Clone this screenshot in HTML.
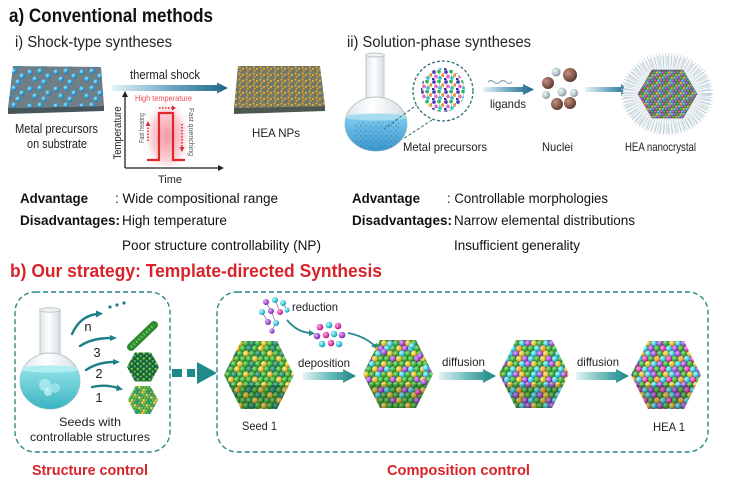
<!DOCTYPE html>
<html><head><meta charset="utf-8"><style>
html,body{margin:0;padding:0;background:#fff;}
svg{display:block;}
text{font-family:"Liberation Sans",Arial,sans-serif;}
</style></head><body>
<svg width="733" height="485" viewBox="0 0 733 485" xmlns="http://www.w3.org/2000/svg">
<defs>
<radialGradient id="sG" cx=".35" cy=".35" r=".75"><stop offset="0" stop-color="#9be88a"/><stop offset=".6" stop-color="#3aa63a"/><stop offset="1" stop-color="#1a5e1a"/></radialGradient>
<radialGradient id="sY" cx=".35" cy=".35" r=".75"><stop offset="0" stop-color="#fff0a0"/><stop offset=".6" stop-color="#d8b830"/><stop offset="1" stop-color="#8a6a08"/></radialGradient>
<radialGradient id="sC" cx=".35" cy=".35" r=".75"><stop offset="0" stop-color="#c0f8ff"/><stop offset=".6" stop-color="#3cc8dc"/><stop offset="1" stop-color="#137a8a"/></radialGradient>
<radialGradient id="sP" cx=".35" cy=".35" r=".75"><stop offset="0" stop-color="#e8b0ff"/><stop offset=".6" stop-color="#a050d0"/><stop offset="1" stop-color="#5a1a80"/></radialGradient>
<radialGradient id="sM" cx=".35" cy=".35" r=".75"><stop offset="0" stop-color="#ffb0e0"/><stop offset=".6" stop-color="#e040b0"/><stop offset="1" stop-color="#801060"/></radialGradient>
<radialGradient id="sO" cx=".35" cy=".35" r=".75"><stop offset="0" stop-color="#ffd8a0"/><stop offset=".6" stop-color="#f0a030"/><stop offset="1" stop-color="#9a5a08"/></radialGradient>
<radialGradient id="sD" cx=".35" cy=".35" r=".75"><stop offset="0" stop-color="#70c0a0"/><stop offset=".6" stop-color="#2a8a70"/><stop offset="1" stop-color="#0e4a3a"/></radialGradient>
<radialGradient id="sB" cx=".35" cy=".35" r=".75"><stop offset="0" stop-color="#a0e4ff"/><stop offset=".6" stop-color="#2aa4dc"/><stop offset="1" stop-color="#0f5e90"/></radialGradient>
<radialGradient id="sBr" cx=".35" cy=".35" r=".75"><stop offset="0" stop-color="#c09080"/><stop offset=".6" stop-color="#85584a"/><stop offset="1" stop-color="#4a2e26"/></radialGradient>
<radialGradient id="sGr" cx=".35" cy=".35" r=".75"><stop offset="0" stop-color="#eef4f6"/><stop offset=".6" stop-color="#b4c4ca"/><stop offset="1" stop-color="#6a7a80"/></radialGradient>
<radialGradient id="pinkG" cx=".5" cy=".55" r=".6"><stop offset="0" stop-color="#f59aa8"/><stop offset=".6" stop-color="#fbd0d6"/><stop offset="1" stop-color="#ffffff" stop-opacity="0"/></radialGradient>
<linearGradient id="gradA" x1="0" y1="0" x2="1" y2="0"><stop offset="0" stop-color="#e6f3f8"/><stop offset=".5" stop-color="#6fa8c4"/><stop offset="1" stop-color="#1c6688"/></linearGradient>
<linearGradient id="gradB" x1="0" y1="0" x2="1" y2="0"><stop offset="0" stop-color="#e4f4f4"/><stop offset=".5" stop-color="#6cbcbc"/><stop offset="1" stop-color="#178484"/></linearGradient>
<linearGradient id="glass" x1="0" y1="0" x2="1" y2="0"><stop offset="0" stop-color="#dfe6e9"/><stop offset=".45" stop-color="#ffffff"/><stop offset="1" stop-color="#d4dde1"/></linearGradient>
<linearGradient id="liqA" x1="0" y1="0" x2="0" y2="1"><stop offset="0" stop-color="#7ccbee"/><stop offset="1" stop-color="#2f8fc8"/></linearGradient>
<linearGradient id="liqB" x1="0" y1="0" x2="0" y2="1"><stop offset="0" stop-color="#8fe0e6"/><stop offset="1" stop-color="#32b0c0"/></linearGradient>

<pattern id="bluedots" patternUnits="userSpaceOnUse" width="26" height="17">
<circle cx="4" cy="4" r="2.7" fill="url(#sB)"/><circle cx="14" cy="3" r="2.7" fill="url(#sB)"/><circle cx="22" cy="8" r="2.7" fill="url(#sB)"/><circle cx="9" cy="11" r="2.7" fill="url(#sB)"/><circle cx="18" cy="14" r="2.7" fill="url(#sB)"/>
</pattern>
<pattern id="orangedots" patternUnits="userSpaceOnUse" width="7" height="6">
<circle cx="1.5" cy="1.5" r="1.1" fill="#f4a41c"/><circle cx="5" cy="2.8" r="1.1" fill="#f0b030"/><circle cx="2.6" cy="4.6" r="1.1" fill="#e8961a"/>
</pattern>
<pattern id="liqdots" patternUnits="userSpaceOnUse" width="5" height="5">
<circle cx="1" cy="1" r=".7" fill="#1a5a9a"/><circle cx="3.5" cy="3" r=".6" fill="#1f6aa8"/>
</pattern>
<pattern id="molpat" patternUnits="userSpaceOnUse" width="12" height="10">
<line x1="2" y1="2" x2="4" y2="6.5" stroke="#999" stroke-width=".5"/><line x1="7" y1="1.5" x2="8" y2="8" stroke="#999" stroke-width=".5"/>
<circle cx="2" cy="2" r="1.9" fill="#5040b0"/><circle cx="7" cy="1.5" r="1.9" fill="#38b060"/><circle cx="11" cy="5" r="1.9" fill="#e09a40"/><circle cx="4" cy="6.5" r="1.9" fill="#e070c0"/><circle cx="8" cy="8" r="1.9" fill="#3cc0d0"/><circle cx="1" cy="9.5" r="1.6" fill="#2a2a90"/>
</pattern>

<pattern id="seedpat" patternUnits="userSpaceOnUse" width="24" height="20.8">
<rect width="24" height="20.8" fill="#1e4e1e"/>
<circle cx="0" cy="0" r="3.2" fill="url(#sG)"/><circle cx="6" cy="0" r="3.2" fill="url(#sY)"/><circle cx="12" cy="0" r="3.2" fill="url(#sG)"/><circle cx="18" cy="0" r="3.2" fill="url(#sD)"/><circle cx="24" cy="0" r="3.2" fill="url(#sG)"/>
<circle cx="3" cy="5.2" r="3.2" fill="url(#sG)"/><circle cx="9" cy="5.2" r="3.2" fill="url(#sG)"/><circle cx="15" cy="5.2" r="3.2" fill="url(#sY)"/><circle cx="21" cy="5.2" r="3.2" fill="url(#sG)"/>
<circle cx="0" cy="10.4" r="3.2" fill="url(#sY)"/><circle cx="6" cy="10.4" r="3.2" fill="url(#sG)"/><circle cx="12" cy="10.4" r="3.2" fill="url(#sD)"/><circle cx="18" cy="10.4" r="3.2" fill="url(#sG)"/><circle cx="24" cy="10.4" r="3.2" fill="url(#sY)"/>
<circle cx="3" cy="15.6" r="3.2" fill="url(#sG)"/><circle cx="9" cy="15.6" r="3.2" fill="url(#sD)"/><circle cx="15" cy="15.6" r="3.2" fill="url(#sG)"/><circle cx="21" cy="15.6" r="3.2" fill="url(#sY)"/>
<circle cx="0" cy="20.8" r="3.2" fill="url(#sG)"/><circle cx="6" cy="20.8" r="3.2" fill="url(#sY)"/><circle cx="12" cy="20.8" r="3.2" fill="url(#sG)"/><circle cx="18" cy="20.8" r="3.2" fill="url(#sD)"/><circle cx="24" cy="20.8" r="3.2" fill="url(#sG)"/>
</pattern>
<pattern id="seedsmall" href="#seedpat" patternTransform="scale(0.5)"/>
<pattern id="darkgreen" patternUnits="userSpaceOnUse" width="6" height="5.2">
<rect width="6" height="5.2" fill="#1e5a1e"/>
<circle cx="0" cy="0" r="1.6" fill="url(#sG)"/><circle cx="6" cy="0" r="1.6" fill="url(#sG)"/><circle cx="3" cy="2.6" r="1.6" fill="url(#sD)"/><circle cx="0" cy="5.2" r="1.6" fill="url(#sG)"/><circle cx="6" cy="5.2" r="1.6" fill="url(#sG)"/>
</pattern>

<pattern id="deppat" patternUnits="userSpaceOnUse" width="24" height="20.8">
<rect width="24" height="20.8" fill="#1e4e1e"/>
<circle cx="0" cy="0" r="3.2" fill="url(#sG)"/><circle cx="6" cy="0" r="3.2" fill="url(#sY)"/><circle cx="12" cy="0" r="3.2" fill="url(#sG)"/><circle cx="18" cy="0" r="3.2" fill="url(#sC)"/><circle cx="24" cy="0" r="3.2" fill="url(#sG)"/>
<circle cx="3" cy="5.2" r="3.2" fill="url(#sG)"/><circle cx="9" cy="5.2" r="3.2" fill="url(#sP)"/><circle cx="15" cy="5.2" r="3.2" fill="url(#sY)"/><circle cx="21" cy="5.2" r="3.2" fill="url(#sG)"/>
<circle cx="0" cy="10.4" r="3.2" fill="url(#sY)"/><circle cx="6" cy="10.4" r="3.2" fill="url(#sG)"/><circle cx="12" cy="10.4" r="3.2" fill="url(#sG)"/><circle cx="18" cy="10.4" r="3.2" fill="url(#sG)"/><circle cx="24" cy="10.4" r="3.2" fill="url(#sY)"/>
<circle cx="3" cy="15.6" r="3.2" fill="url(#sC)"/><circle cx="9" cy="15.6" r="3.2" fill="url(#sG)"/><circle cx="15" cy="15.6" r="3.2" fill="url(#sY)"/><circle cx="21" cy="15.6" r="3.2" fill="url(#sP)"/>
<circle cx="0" cy="20.8" r="3.2" fill="url(#sG)"/><circle cx="6" cy="20.8" r="3.2" fill="url(#sY)"/><circle cx="12" cy="20.8" r="3.2" fill="url(#sG)"/><circle cx="18" cy="20.8" r="3.2" fill="url(#sC)"/><circle cx="24" cy="20.8" r="3.2" fill="url(#sG)"/>
</pattern>

<pattern id="mixA" patternUnits="userSpaceOnUse" width="24" height="20.8">
<rect width="24" height="20.8" fill="#2a3a3a"/>
<circle cx="0" cy="0" r="3.2" fill="url(#sC)"/><circle cx="6" cy="0" r="3.2" fill="url(#sP)"/><circle cx="12" cy="0" r="3.2" fill="url(#sG)"/><circle cx="18" cy="0" r="3.2" fill="url(#sY)"/><circle cx="24" cy="0" r="3.2" fill="url(#sC)"/>
<circle cx="3" cy="5.2" r="3.2" fill="url(#sG)"/><circle cx="9" cy="5.2" r="3.2" fill="url(#sO)"/><circle cx="15" cy="5.2" r="3.2" fill="url(#sC)"/><circle cx="21" cy="5.2" r="3.2" fill="url(#sM)"/>
<circle cx="0" cy="10.4" r="3.2" fill="url(#sY)"/><circle cx="6" cy="10.4" r="3.2" fill="url(#sC)"/><circle cx="12" cy="10.4" r="3.2" fill="url(#sP)"/><circle cx="18" cy="10.4" r="3.2" fill="url(#sG)"/><circle cx="24" cy="10.4" r="3.2" fill="url(#sY)"/>
<circle cx="3" cy="15.6" r="3.2" fill="url(#sP)"/><circle cx="9" cy="15.6" r="3.2" fill="url(#sG)"/><circle cx="15" cy="15.6" r="3.2" fill="url(#sM)"/><circle cx="21" cy="15.6" r="3.2" fill="url(#sC)"/>
<circle cx="0" cy="20.8" r="3.2" fill="url(#sC)"/><circle cx="6" cy="20.8" r="3.2" fill="url(#sP)"/><circle cx="12" cy="20.8" r="3.2" fill="url(#sG)"/><circle cx="18" cy="20.8" r="3.2" fill="url(#sY)"/><circle cx="24" cy="20.8" r="3.2" fill="url(#sC)"/>
</pattern>
<pattern id="mixsmall" href="#mixA" patternTransform="scale(0.5)"/>

<pattern id="mixB" patternUnits="userSpaceOnUse" width="24" height="20.8">
<rect width="24" height="20.8" fill="#2a3a3a"/>
<circle cx="0" cy="0" r="3.2" fill="url(#sG)"/><circle cx="6" cy="0" r="3.2" fill="url(#sC)"/><circle cx="12" cy="0" r="3.2" fill="url(#sP)"/><circle cx="18" cy="0" r="3.2" fill="url(#sY)"/><circle cx="24" cy="0" r="3.2" fill="url(#sG)"/>
<circle cx="3" cy="5.2" r="3.2" fill="url(#sC)"/><circle cx="9" cy="5.2" r="3.2" fill="url(#sG)"/><circle cx="15" cy="5.2" r="3.2" fill="url(#sY)"/><circle cx="21" cy="5.2" r="3.2" fill="url(#sP)"/>
<circle cx="0" cy="10.4" r="3.2" fill="url(#sP)"/><circle cx="6" cy="10.4" r="3.2" fill="url(#sY)"/><circle cx="12" cy="10.4" r="3.2" fill="url(#sG)"/><circle cx="18" cy="10.4" r="3.2" fill="url(#sC)"/><circle cx="24" cy="10.4" r="3.2" fill="url(#sP)"/>
<circle cx="3" cy="15.6" r="3.2" fill="url(#sG)"/><circle cx="9" cy="15.6" r="3.2" fill="url(#sC)"/><circle cx="15" cy="15.6" r="3.2" fill="url(#sO)"/><circle cx="21" cy="15.6" r="3.2" fill="url(#sG)"/>
<circle cx="0" cy="20.8" r="3.2" fill="url(#sG)"/><circle cx="6" cy="20.8" r="3.2" fill="url(#sC)"/><circle cx="12" cy="20.8" r="3.2" fill="url(#sP)"/><circle cx="18" cy="20.8" r="3.2" fill="url(#sY)"/><circle cx="24" cy="20.8" r="3.2" fill="url(#sG)"/>
</pattern>

<clipPath id="bulbA"><ellipse cx="376" cy="124" rx="31" ry="27"/></clipPath>
<clipPath id="bulbB"><ellipse cx="50" cy="381" rx="30" ry="28"/></clipPath>
</defs>

<rect width="733" height="485" fill="#fff"/>

<!-- Headings -->
<text x="9" y="22" font-size="19" font-weight="bold" fill="#111" textLength="204" lengthAdjust="spacingAndGlyphs">a) Conventional methods</text>
<text x="15" y="47" font-size="16" fill="#222" textLength="157" lengthAdjust="spacingAndGlyphs">i) Shock-type syntheses</text>
<text x="347" y="47" font-size="16" fill="#222" textLength="184" lengthAdjust="spacingAndGlyphs">ii) Solution-phase syntheses</text>

<!-- a-i substrate 1 -->
<polygon points="13,66 101,67 104,106 8,108" fill="#6f7f87"/>
<polygon points="13,66 101,67 104,106 8,108" fill="url(#bluedots)"/>
<polygon points="8,108 104,106 104,111 8,114" fill="#47565c"/>
<text x="15" y="133" font-size="12.5" fill="#222" textLength="83" lengthAdjust="spacingAndGlyphs">Metal precursors</text>
<text x="27" y="148" font-size="12.5" fill="#222" textLength="60" lengthAdjust="spacingAndGlyphs">on substrate</text>

<!-- thermal shock arrow -->
<text x="130" y="79" font-size="13" fill="#222" textLength="70" lengthAdjust="spacingAndGlyphs">thermal shock</text>
<path d="M112,85 H217 V82.5 L228,88 L217,93.5 V91 H112 Z" fill="url(#gradA)"/>

<!-- graph -->
<rect x="146" y="100" width="42" height="66" fill="url(#pinkG)"/>
<path d="M147,160 H159 V113 H173 V160 H185" stroke="#e02a2a" stroke-width="2.2" fill="none"/>
<path d="M125,168 V95" stroke="#222" stroke-width="1.3"/>
<polygon points="122,97 128,97 125,91" fill="#222"/>
<path d="M125,168 H219" stroke="#222" stroke-width="1.3"/>
<polygon points="218,165 218,171 224,168" fill="#222"/>
<text x="135" y="101" font-size="8" fill="#e84a5a" textLength="57" lengthAdjust="spacingAndGlyphs">High temperature</text>
<line x1="159" y1="108" x2="172" y2="108" stroke="#d0303a" stroke-width="1.6" stroke-dasharray="1.5 1.5"/>
<polygon points="172,105.5 172,110.5 176,108" fill="#d0303a"/>
<line x1="148" y1="141" x2="148" y2="126" stroke="#d0303a" stroke-width="1.6" stroke-dasharray="1.5 1.5"/>
<polygon points="145.5,126 150.5,126 148,121" fill="#d0303a"/>
<line x1="182" y1="124" x2="182" y2="147" stroke="#d0303a" stroke-width="1.6" stroke-dasharray="1.5 1.5"/>
<polygon points="179.5,147 184.5,147 182,152" fill="#d0303a"/>
<text transform="translate(121,133) rotate(-90)" text-anchor="middle" font-size="11" fill="#222" textLength="53" lengthAdjust="spacingAndGlyphs">Temperature</text>
<text transform="translate(144,128) rotate(-90)" text-anchor="middle" font-size="7" fill="#555" textLength="30" lengthAdjust="spacingAndGlyphs">Fast heating</text>
<text transform="translate(189,132) rotate(90)" text-anchor="middle" font-size="7" fill="#555" textLength="48" lengthAdjust="spacingAndGlyphs">Fast quenching</text>
<text x="170" y="183" text-anchor="middle" font-size="11" fill="#222">Time</text>

<!-- HEA NPs substrate -->
<polygon points="238,66 320,66 325,106 234,108" fill="#6c786e"/>
<polygon points="238,66 320,66 325,106 234,108" fill="url(#orangedots)"/>
<polygon points="234,108 325,106 325,111 234,114" fill="#4b574f"/>
<text x="252" y="137" font-size="12" fill="#222" textLength="48" lengthAdjust="spacingAndGlyphs">HEA NPs</text>

<!-- a-ii flask -->
<rect x="366" y="55" width="18" height="52" fill="url(#glass)" stroke="#bcc6ca" stroke-width="1"/>
<ellipse cx="375" cy="55" rx="9.5" ry="2" fill="#eef2f4" stroke="#bcc6ca" stroke-width="1"/>
<ellipse cx="376" cy="124" rx="31" ry="27" fill="url(#glass)" stroke="#b8c4c8" stroke-width="1"/>
<g clip-path="url(#bulbA)">
<rect x="340" y="117" width="75" height="40" fill="url(#liqA)"/>
<rect x="355" y="122" width="45" height="28" fill="url(#liqdots)" opacity=".6"/>
<ellipse cx="376" cy="117" rx="31" ry="3.5" fill="#a6dcf2"/>
</g>
<line x1="418" y1="104" x2="384" y2="129" stroke="#2c6f7a" stroke-width="1" stroke-dasharray="3 2"/>
<line x1="432" y1="120" x2="403" y2="139" stroke="#2c6f7a" stroke-width="1" stroke-dasharray="3 2"/>
<circle cx="443" cy="91" r="30" fill="#fff" stroke="#2c6f7a" stroke-width="1.3" stroke-dasharray="3 2"/>
<circle cx="443" cy="90" r="22" fill="url(#molpat)"/>
<text x="403" y="151" font-size="12" fill="#222" textLength="84" lengthAdjust="spacingAndGlyphs">Metal precursors</text>

<!-- ligands -->
<path d="M488,82 q3,-3 6,0 t6,0 t6,0 t6,0" stroke="#8aa4ae" stroke-width="1.2" fill="none"/>
<path d="M483,87 H523 V84 L534,89.5 L523,95 V92 H483 Z" fill="url(#gradA)"/>
<text x="490" y="108" font-size="12" fill="#222" textLength="36" lengthAdjust="spacingAndGlyphs">ligands</text>

<!-- nuclei -->
<circle cx="570" cy="75" r="7" fill="url(#sBr)"/>
<circle cx="548" cy="83" r="6" fill="url(#sBr)"/>
<circle cx="556" cy="72" r="4.5" fill="url(#sGr)"/>
<circle cx="562" cy="92" r="4.5" fill="url(#sGr)"/>
<circle cx="546" cy="95" r="4" fill="url(#sGr)"/>
<circle cx="574" cy="93" r="4" fill="url(#sGr)"/>
<circle cx="557" cy="104" r="6" fill="url(#sBr)"/>
<circle cx="570" cy="103" r="6" fill="url(#sBr)"/>
<text x="542" y="151" font-size="12" fill="#222" textLength="31" lengthAdjust="spacingAndGlyphs">Nuclei</text>

<path d="M585,87 H621 V84 L632,89.5 L621,95 V92 H585 Z" fill="url(#gradA)"/>

<!-- HEA nanocrystal -->
<ellipse cx="667" cy="94" rx="44" ry="38" fill="#f3f7f9"/>
<ellipse cx="667" cy="94" rx="37" ry="32" fill="none" stroke="#c0cfd7" stroke-width="18" stroke-dasharray="0.6 2"/>
<ellipse cx="667" cy="95" rx="39" ry="34" fill="none" stroke="#a9bcc6" stroke-width="10" stroke-dasharray="0.5 3.5"/>
<polygon points="638,94 652,70 683,70 697,94 683,118 652,118" fill="url(#mixsmall)" stroke="#444" stroke-width=".5"/>
<polygon points="638,94 652,70 683,70 697,94 683,118 652,118" fill="#000" opacity=".15"/>
<text x="625" y="151" font-size="12" fill="#222" textLength="71" lengthAdjust="spacingAndGlyphs">HEA nanocrystal</text>

<!-- Advantages text -->
<g font-size="13.5" fill="#111">
<text x="20" y="203" font-weight="bold" textLength="68" lengthAdjust="spacingAndGlyphs">Advantage</text>
<text x="115" y="203" textLength="163" lengthAdjust="spacingAndGlyphs">: Wide compositional range</text>
<text x="20" y="225" font-weight="bold" textLength="100" lengthAdjust="spacingAndGlyphs">Disadvantages:</text>
<text x="122" y="225" textLength="105" lengthAdjust="spacingAndGlyphs">High temperature</text>
<text x="122" y="250" textLength="199" lengthAdjust="spacingAndGlyphs">Poor structure controllability  (NP)</text>
<text x="352" y="203" font-weight="bold" textLength="68" lengthAdjust="spacingAndGlyphs">Advantage</text>
<text x="447" y="203" textLength="161" lengthAdjust="spacingAndGlyphs">: Controllable morphologies</text>
<text x="352" y="225" font-weight="bold" textLength="100" lengthAdjust="spacingAndGlyphs">Disadvantages:</text>
<text x="454" y="225" textLength="181" lengthAdjust="spacingAndGlyphs">Narrow elemental distributions</text>
<text x="454" y="250" textLength="126" lengthAdjust="spacingAndGlyphs">Insufficient generality</text>
</g>

<text x="10" y="277" font-size="18" font-weight="bold" fill="#d8232a" textLength="372" lengthAdjust="spacingAndGlyphs">b) Our strategy: Template-directed Synthesis</text>

<!-- part b boxes -->
<rect x="15" y="292" width="155" height="160" rx="20" fill="none" stroke="#2a8a8a" stroke-width="1.4" stroke-dasharray="5 3"/>
<rect x="217" y="292" width="491" height="160" rx="20" fill="none" stroke="#2a8a8a" stroke-width="1.4" stroke-dasharray="5 3"/>

<!-- flask b -->
<rect x="40" y="310" width="20" height="52" fill="url(#glass)" stroke="#bcc6ca" stroke-width="1"/>
<ellipse cx="50" cy="310" rx="10.5" ry="2.2" fill="#eef2f4" stroke="#bcc6ca" stroke-width="1"/>
<ellipse cx="50" cy="381" rx="30" ry="28" fill="url(#glass)" stroke="#b8c4c8" stroke-width="1"/>
<g clip-path="url(#bulbB)">
<rect x="18" y="369" width="64" height="44" fill="url(#liqB)"/>
<ellipse cx="50" cy="369" rx="30" ry="3.5" fill="#b0eef2"/>
<circle cx="45" cy="385" r="6" fill="#c6f6f8" opacity=".6"/>
<circle cx="55" cy="388" r="5" fill="#c6f6f8" opacity=".5"/>
<circle cx="48" cy="392" r="4" fill="#e0fbfc" opacity=".6"/>
</g>

<!-- curved arrows -->
<g stroke="#1f7f88" stroke-width="2.4" fill="none" stroke-linecap="round">
<path d="M72,334 Q80,316 97,314"/>
<path d="M80,346 Q92,338 111,338"/>
<path d="M86,370 Q98,362 114,362"/>
<path d="M92,387 Q105,384 118,388"/>
</g>
<g fill="#1f7f88">
<polygon points="96,310.5 96,317.5 103,313.5"/>
<polygon points="110,335 110,341 117,338"/>
<polygon points="113,359 113,365 120,362"/>
<polygon points="117,384.5 116,391 123,389.5"/>
<circle cx="110" cy="307" r="1.6"/><circle cx="117" cy="305" r="1.6"/><circle cx="124" cy="303" r="1.6"/>
</g>
<g font-size="13" fill="#222" text-anchor="middle">
<text x="88" y="331">n</text>
<text x="97" y="357">3</text>
<text x="99" y="378">2</text>
<text x="99" y="402">1</text>
</g>

<!-- seeds -->
<line x1="131" y1="347" x2="154" y2="325" stroke="#2e8a2e" stroke-width="8" stroke-linecap="round"/>
<line x1="131" y1="347" x2="154" y2="325" stroke="#6ad06a" stroke-width="2.5" stroke-dasharray="1.5 2"/>
<polygon points="127,367 135,352.5 151,352.5 159,367 151,381.5 135,381.5" fill="url(#darkgreen)"/>
<polygon points="128,400 135.5,386 150.5,386 158,400 150.5,414 135.5,414" fill="url(#seedsmall)"/>

<text x="90" y="426" text-anchor="middle" font-size="12" fill="#222" textLength="62" lengthAdjust="spacingAndGlyphs">Seeds with</text>
<text x="90" y="441" text-anchor="middle" font-size="12" fill="#222" textLength="120" lengthAdjust="spacingAndGlyphs">controllable structures</text>
<text x="32" y="475" font-size="15" font-weight="bold" fill="#d8232a" textLength="116" lengthAdjust="spacingAndGlyphs">Structure control</text>

<!-- dashed big arrow -->
<rect x="172" y="369" width="10" height="8" fill="#1f8a8a"/>
<rect x="187" y="369" width="8" height="8" fill="#1f8a8a"/>
<polygon points="197,362 197,384 217,373" fill="#1f8a8a"/>

<!-- Seed 1 -->
<polygon points="224,375 241,341 277,341 294,375 277,409 241,409" fill="url(#seedpat)"/>
<polygon points="229,385 289,385 277,409 241,409" fill="#000" opacity=".18"/>
<text x="242" y="430" font-size="12" fill="#222" textLength="35" lengthAdjust="spacingAndGlyphs">Seed 1</text>

<!-- reduction precursor -->
<g stroke="#8a8a9a" stroke-width=".8">
<line x1="266" y1="302" x2="271" y2="311"/><line x1="275" y1="300" x2="280" y2="312"/><line x1="262" y1="312" x2="268" y2="322"/><line x1="271" y1="311" x2="276" y2="323"/><line x1="283" y1="303" x2="287" y2="310"/><line x1="276" y1="323" x2="272" y2="330"/>
</g>
<circle cx="266" cy="302" r="3" fill="url(#sP)"/><circle cx="275" cy="300" r="3" fill="url(#sC)"/><circle cx="283" cy="303" r="3" fill="url(#sC)"/>
<circle cx="262" cy="312" r="3" fill="url(#sC)"/><circle cx="271" cy="311" r="3" fill="url(#sP)"/><circle cx="280" cy="312" r="3" fill="url(#sM)"/><circle cx="287" cy="310" r="2.6" fill="url(#sC)"/>
<circle cx="268" cy="322" r="3" fill="url(#sP)"/><circle cx="276" cy="323" r="3" fill="url(#sC)"/><circle cx="272" cy="331" r="2.6" fill="url(#sP)"/>
<text x="292" y="311" font-size="12" fill="#222" textLength="46" lengthAdjust="spacingAndGlyphs">reduction</text>
<path d="M287,320 Q297,332 310,333" stroke="#2a8a8a" stroke-width="1.8" fill="none"/>
<polygon points="309,330 309,336 315,333.5" fill="#2a8a8a"/>
<circle cx="320" cy="327" r="3.3" fill="url(#sM)"/><circle cx="329" cy="325" r="3.3" fill="url(#sC)"/><circle cx="338" cy="326" r="3.3" fill="url(#sM)"/>
<circle cx="317" cy="336" r="3.3" fill="url(#sP)"/><circle cx="326" cy="335" r="3.3" fill="url(#sM)"/><circle cx="334" cy="334" r="3.3" fill="url(#sC)"/><circle cx="342" cy="335" r="3.3" fill="url(#sP)"/>
<circle cx="322" cy="344" r="3.3" fill="url(#sC)"/><circle cx="331" cy="343" r="3.3" fill="url(#sM)"/><circle cx="339" cy="344" r="3.3" fill="url(#sC)"/>
<path d="M348,333 Q364,336 375,346" stroke="#2a8a8a" stroke-width="1.8" fill="none"/>
<polygon points="371,346 377,343 379,350" fill="#2a8a8a"/>

<text x="298" y="367" font-size="12" fill="#222" textLength="52" lengthAdjust="spacingAndGlyphs">deposition</text>
<path d="M303,372 H343 V369 L356,376 L343,383 V380 H303 Z" fill="url(#gradB)"/>

<!-- hex 2 -->
<polygon points="363,374 380,340 416,340 433,374 416,408 380,408" fill="url(#deppat)"/>
<circle cx="390" cy="344" r="3.2" fill="url(#sC)"/><circle cx="402" cy="343" r="3.2" fill="url(#sP)"/><circle cx="412" cy="346" r="3.2" fill="url(#sC)"/>
<circle cx="420" cy="356" r="3.2" fill="url(#sP)"/><circle cx="426" cy="368" r="3.2" fill="url(#sC)"/><circle cx="424" cy="382" r="3.2" fill="url(#sP)"/>
<circle cx="372" cy="364" r="3.2" fill="url(#sC)"/><circle cx="384" cy="352" r="3.2" fill="url(#sP)"/><circle cx="418" cy="392" r="3.2" fill="url(#sM)"/>
<polygon points="368,384 428,384 416,408 380,408" fill="#000" opacity=".18"/>

<text x="442" y="366" font-size="12" fill="#222" textLength="43" lengthAdjust="spacingAndGlyphs">diffusion</text>
<path d="M439,372 H483 V369 L496,376 L483,383 V380 H439 Z" fill="url(#gradB)"/>

<!-- hex 3 -->
<polygon points="499,374 516,340 552,340 569,374 552,408 516,408" fill="url(#mixB)"/>
<polygon points="504,384 564,384 552,408 516,408" fill="#000" opacity=".18"/>

<text x="577" y="366" font-size="12" fill="#222" textLength="42" lengthAdjust="spacingAndGlyphs">diffusion</text>
<path d="M576,372 H616 V369 L629,376 L616,383 V380 H576 Z" fill="url(#gradB)"/>

<!-- hex 4 -->
<polygon points="631,375 648,341 684,341 701,375 684,409 648,409" fill="url(#mixA)"/>
<polygon points="636,385 696,385 684,409 648,409" fill="#000" opacity=".18"/>
<text x="653" y="431" font-size="12" fill="#222" textLength="32" lengthAdjust="spacingAndGlyphs">HEA 1</text>

<text x="387" y="475" font-size="15" font-weight="bold" fill="#d8232a" textLength="143" lengthAdjust="spacingAndGlyphs">Composition control</text>
</svg>
</body></html>
